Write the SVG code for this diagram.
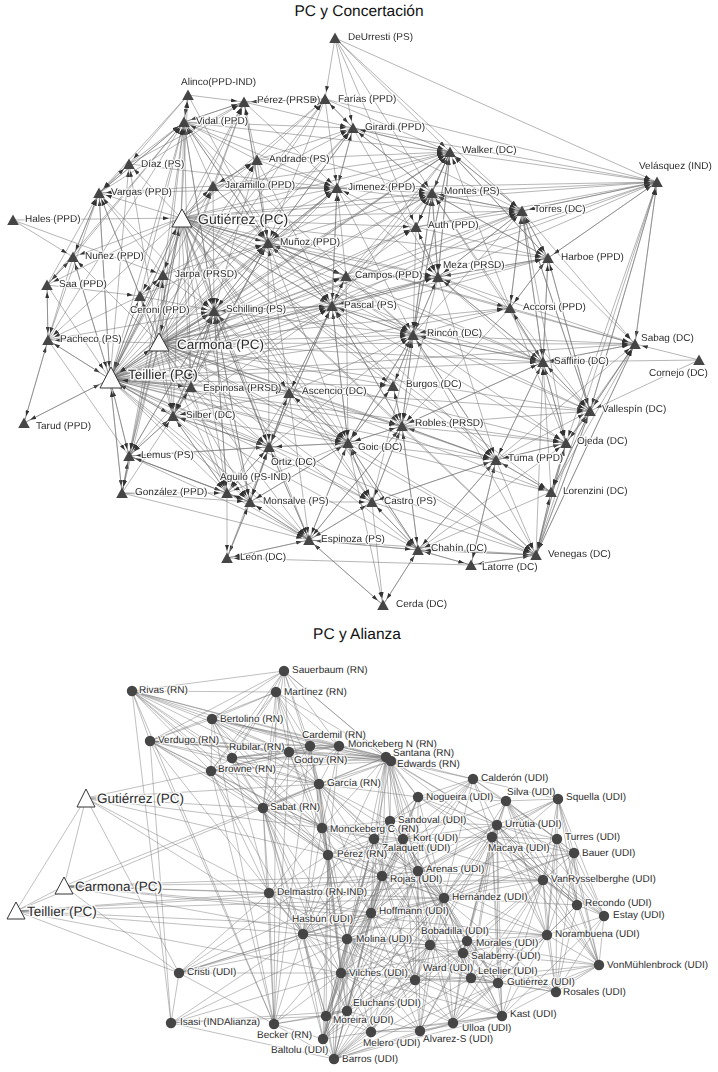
<svg xmlns="http://www.w3.org/2000/svg" width="718" height="1072" viewBox="0 0 718 1072">
<style>
.t path{fill:none;stroke:#6c6c6c;stroke-width:.5;marker-end:url(#ah)}
.t path.p{marker-end:url(#ah2)}
.b path{fill:none;stroke:#727272;stroke-width:.45}
.tk{fill:#444}
.wt{fill:#fff;stroke:#333;stroke-width:1}
.nd{fill:#444}
.ng{opacity:.99}
text{font-family:"Liberation Sans",Arial,Helvetica,sans-serif;fill:#2b2b2b;dominant-baseline:central;text-rendering:geometricPrecision}
.l{font-size:10px;paint-order:stroke;stroke:#fff;stroke-opacity:.8;stroke-width:2.5px;stroke-linejoin:round}
.L{font-size:13.5px;paint-order:stroke;stroke:#fff;stroke-opacity:.85;stroke-width:3px;stroke-linejoin:round}
.ti{font-size:15.5px;text-anchor:middle;fill:#111}
</style>
<defs>
<marker id="ah" viewBox="0 0 6 4" refX="13" refY="2" markerWidth="6" markerHeight="4" markerUnits="userSpaceOnUse" orient="auto"><path d="M0,0L6,2L0,4z" fill="#333"/></marker>
<marker id="ah2" viewBox="0 0 6 4" refX="18" refY="2" markerWidth="6" markerHeight="4" markerUnits="userSpaceOnUse" orient="auto"><path d="M0,0L6,2L0,4z" fill="#333"/></marker>
<polygon id="tri" points="0,-5.5 5.8,5 -5.8,5"/>
</defs>
<rect width="718" height="1072" fill="#fff"/>
<text class="ti" x="359" y="11">PC y Concertación</text>
<text class="ti" x="357" y="634">PC y Alianza</text>
<g id="connectors-concertacion" class="t">
<path d="M188 95L184 122"/><path d="M129 164L184 122"/><path d="M99 193L184 122"/><path d="M181 218L184 122"/><path d="M213 186L184 122"/><path d="M268 243L184 122"/><path d="M214 311L184 122"/><path d="M163 275L184 122"/><path d="M140 296L184 122"/><path d="M159 343L184 122"/><path d="M110 379L184 122"/><path d="M257 160L184 122"/><path d="M191 387L184 122"/><path d="M244 102L184 122"/>
<path d="M335 38L450 152"/><path d="M353 128L450 152"/><path d="M337 188L450 152"/><path d="M432 193L450 152"/><path d="M416 227L450 152"/><path d="M438 277L450 152"/><path d="M522 211L450 152"/><path d="M413 335L450 152"/><path d="M332 306L450 152"/><path d="M346 276L450 152"/><path d="M268 243L450 152"/><path d="M181 218L450 152"/><path d="M159 343L450 152"/><path d="M110 379L450 152"/><path d="M214 311L450 152"/><path d="M325 99L450 152"/><path d="M510 308L450 152"/>
<path d="M325 99L337 188"/><path d="M353 128L337 188"/><path d="M257 160L337 188"/><path d="M181 218L337 188"/><path d="M159 343L337 188"/><path d="M110 379L337 188"/><path d="M268 243L337 188"/><path d="M346 276L337 188"/><path d="M332 306L337 188"/><path d="M214 311L337 188"/><path d="M213 186L337 188"/><path d="M416 227L337 188"/><path d="M244 102L337 188"/><path d="M184 122L337 188"/>
<path d="M450 152L432 193"/><path d="M353 128L432 193"/><path d="M337 188L432 193"/><path d="M416 227L432 193"/><path d="M438 277L432 193"/><path d="M413 335L432 193"/><path d="M522 211L432 193"/><path d="M181 218L432 193"/><path d="M159 343L432 193"/><path d="M110 379L432 193"/><path d="M332 306L432 193"/><path d="M346 276L432 193"/><path d="M548 258L432 193"/><path d="M335 38L432 193"/>
<path d="M450 152L522 211"/><path d="M432 193L522 211"/><path d="M416 227L522 211"/><path d="M438 277L522 211"/><path d="M548 258L522 211"/><path d="M510 308L522 211"/><path d="M543 362L522 211"/><path d="M413 335L522 211"/><path d="M181 218L522 211"/><path d="M110 379L522 211"/><path d="M159 343L522 211"/><path d="M332 306L522 211"/><path d="M590 411L522 211"/>
<path d="M181 218L268 243"/><path d="M159 343L268 243"/><path d="M110 379L268 243"/><path d="M213 186L268 243"/><path d="M163 275L268 243"/><path d="M257 160L268 243"/><path d="M214 311L268 243"/><path d="M346 276L268 243"/><path d="M332 306L268 243"/><path d="M289 393L268 243"/><path d="M191 387L268 243"/><path d="M184 122L268 243"/><path d="M140 296L268 243"/><path d="M173 416L268 243"/><path d="M188 95L268 243"/>
<path d="M181 218L214 311"/><path d="M159 343L214 311"/><path d="M110 379L214 311"/><path d="M163 275L214 311"/><path d="M140 296L214 311"/><path d="M268 243L214 311"/><path d="M191 387L214 311"/><path d="M173 416L214 311"/><path d="M289 393L214 311"/><path d="M332 306L214 311"/><path d="M269 447L214 311"/><path d="M129 456L214 311"/><path d="M99 193L214 311"/><path d="M48 340L214 311"/>
<path d="M181 218L332 306"/><path d="M159 343L332 306"/><path d="M110 379L332 306"/><path d="M268 243L332 306"/><path d="M346 276L332 306"/><path d="M214 311L332 306"/><path d="M289 393L332 306"/><path d="M413 335L332 306"/><path d="M393 386L332 306"/><path d="M348 443L332 306"/><path d="M337 188L332 306"/><path d="M438 277L332 306"/><path d="M402 426L332 306"/>
<path d="M438 277L413 335"/><path d="M416 227L413 335"/><path d="M346 276L413 335"/><path d="M332 306L413 335"/><path d="M393 386L413 335"/><path d="M402 426L413 335"/><path d="M348 443L413 335"/><path d="M181 218L413 335"/><path d="M159 343L413 335"/><path d="M110 379L413 335"/><path d="M510 308L413 335"/><path d="M543 362L413 335"/><path d="M496 460L413 335"/><path d="M372 502L413 335"/><path d="M432 193L413 335"/>
<path d="M416 227L438 277"/><path d="M432 193L438 277"/><path d="M413 335L438 277"/><path d="M548 258L438 277"/><path d="M346 276L438 277"/><path d="M522 211L438 277"/><path d="M510 308L438 277"/><path d="M181 218L438 277"/><path d="M159 343L438 277"/><path d="M110 379L438 277"/><path d="M450 152L438 277"/><path d="M337 188L438 277"/>
<path d="M510 308L543 362"/><path d="M548 258L543 362"/><path d="M522 211L543 362"/><path d="M590 411L543 362"/><path d="M566 443L543 362"/><path d="M496 460L543 362"/><path d="M413 335L543 362"/><path d="M181 218L543 362"/><path d="M159 343L543 362"/><path d="M110 379L543 362"/><path d="M438 277L543 362"/><path d="M635 344L543 362"/><path d="M699 360L543 362"/>
<path d="M393 386L402 426"/><path d="M413 335L402 426"/><path d="M348 443L402 426"/><path d="M496 460L402 426"/><path d="M372 502L402 426"/><path d="M418 550L402 426"/><path d="M181 218L402 426"/><path d="M159 343L402 426"/><path d="M110 379L402 426"/><path d="M289 393L402 426"/><path d="M332 306L402 426"/>
<path d="M289 393L348 443"/><path d="M269 447L348 443"/><path d="M402 426L348 443"/><path d="M393 386L348 443"/><path d="M372 502L348 443"/><path d="M309 540L348 443"/><path d="M250 502L348 443"/><path d="M181 218L348 443"/><path d="M159 343L348 443"/><path d="M110 379L348 443"/><path d="M332 306L348 443"/>
<path d="M289 393L269 447"/><path d="M173 416L269 447"/><path d="M227 493L269 447"/><path d="M250 502L269 447"/><path d="M348 443L269 447"/><path d="M309 540L269 447"/><path d="M129 456L269 447"/><path d="M181 218L269 447"/><path d="M159 343L269 447"/><path d="M110 379L269 447"/><path d="M191 387L269 447"/>
<path d="M191 387L173 416"/><path d="M110 379L173 416"/><path d="M159 343L173 416"/><path d="M129 456L173 416"/><path d="M227 493L173 416"/><path d="M269 447L173 416"/><path d="M214 311L173 416"/><path d="M289 393L173 416"/><path d="M181 218L173 416"/>
<path d="M635 344L590 411"/><path d="M543 362L590 411"/><path d="M566 443L590 411"/><path d="M551 492L590 411"/><path d="M536 555L590 411"/><path d="M496 460L590 411"/><path d="M510 308L590 411"/><path d="M548 258L590 411"/><path d="M181 218L590 411"/><path d="M159 343L590 411"/><path d="M110 379L590 411"/><path d="M699 360L590 411"/>
<path d="M590 411L566 443"/><path d="M543 362L566 443"/><path d="M551 492L566 443"/><path d="M496 460L566 443"/><path d="M536 555L566 443"/><path d="M510 308L566 443"/><path d="M181 218L566 443"/><path d="M159 343L566 443"/><path d="M110 379L566 443"/>
<path d="M551 492L536 555"/><path d="M471 565L536 555"/><path d="M418 550L536 555"/><path d="M496 460L536 555"/><path d="M566 443L536 555"/><path d="M590 411L536 555"/><path d="M635 344L536 555"/><path d="M181 218L536 555"/><path d="M159 343L536 555"/><path d="M110 379L536 555"/>
<path d="M250 502L309 540"/><path d="M227 493L309 540"/><path d="M372 502L309 540"/><path d="M348 443L309 540"/><path d="M269 447L309 540"/><path d="M227 558L309 540"/><path d="M383 605L309 540"/><path d="M181 218L309 540"/><path d="M159 343L309 540"/><path d="M110 379L309 540"/><path d="M418 550L309 540"/>
<path d="M227 493L250 502"/><path d="M269 447L250 502"/><path d="M309 540L250 502"/><path d="M129 456L250 502"/><path d="M122 493L250 502"/><path d="M181 218L250 502"/><path d="M159 343L250 502"/><path d="M110 379L250 502"/>
<path d="M129 456L227 493"/><path d="M122 493L227 493"/><path d="M250 502L227 493"/><path d="M173 416L227 493"/><path d="M269 447L227 493"/><path d="M110 379L227 493"/><path d="M159 343L227 493"/><path d="M181 218L227 493"/>
<path class="p" d="M48 340L110 379"/><path class="p" d="M159 343L110 379"/><path class="p" d="M181 218L110 379"/><path class="p" d="M129 456L110 379"/><path class="p" d="M173 416L110 379"/><path class="p" d="M140 296L110 379"/><path class="p" d="M47 285L110 379"/><path class="p" d="M163 275L110 379"/><path class="p" d="M24 423L110 379"/>
<path d="M122 493L129 456"/><path d="M110 379L129 456"/><path d="M159 343L129 456"/><path d="M173 416L129 456"/><path d="M181 218L129 456"/><path d="M227 493L129 456"/><path d="M48 340L129 456"/>
<path d="M129 164L99 193"/><path d="M73 257L99 193"/><path d="M188 95L99 193"/><path d="M181 218L99 193"/><path d="M163 275L99 193"/><path d="M47 285L99 193"/><path d="M140 296L99 193"/><path d="M159 343L99 193"/><path d="M110 379L99 193"/>
<path d="M657 182L635 344"/><path d="M699 360L635 344"/><path d="M543 362L635 344"/><path d="M590 411L635 344"/><path d="M510 308L635 344"/><path d="M548 258L635 344"/><path d="M181 218L635 344"/><path d="M159 343L635 344"/><path d="M110 379L635 344"/>
<path d="M450 152L657 182"/><path d="M432 193L657 182"/><path d="M522 211L657 182"/><path d="M416 227L657 182"/><path d="M548 258L657 182"/><path d="M335 38L657 182"/><path d="M181 218L657 182"/><path d="M159 343L657 182"/><path d="M110 379L657 182"/><path d="M337 188L657 182"/>
<path d="M335 38L353 128"/><path d="M325 99L353 128"/><path d="M337 188L353 128"/><path d="M257 160L353 128"/><path d="M181 218L353 128"/><path d="M159 343L353 128"/><path d="M110 379L353 128"/><path d="M244 102L353 128"/>
<path d="M188 95L244 102"/><path d="M184 122L244 102"/><path d="M257 160L244 102"/><path d="M181 218L244 102"/><path d="M159 343L244 102"/><path d="M110 379L244 102"/><path d="M325 99L244 102"/>
<path d="M402 426L496 460"/><path d="M413 335L496 460"/><path d="M543 362L496 460"/><path d="M566 443L496 460"/><path d="M551 492L496 460"/><path d="M418 550L496 460"/><path d="M181 218L496 460"/><path d="M159 343L496 460"/><path d="M110 379L496 460"/><path d="M471 565L496 460"/>
<path d="M372 502L418 550"/><path d="M309 540L418 550"/><path d="M471 565L418 550"/><path d="M383 605L418 550"/><path d="M402 426L418 550"/><path d="M181 218L418 550"/><path d="M159 343L418 550"/><path d="M110 379L418 550"/>
<path d="M348 443L372 502"/><path d="M309 540L372 502"/><path d="M402 426L372 502"/><path d="M418 550L372 502"/><path d="M181 218L372 502"/><path d="M159 343L372 502"/><path d="M110 379L372 502"/>
<path d="M522 211L548 258"/><path d="M510 308L548 258"/><path d="M438 277L548 258"/><path d="M657 182L548 258"/><path d="M181 218L548 258"/><path d="M159 343L548 258"/><path d="M110 379L548 258"/>
<path d="M566 443L551 492"/><path d="M496 460L551 492"/><path d="M536 555L551 492"/><path d="M590 411L551 492"/><path d="M181 218L551 492"/><path d="M159 343L551 492"/><path d="M110 379L551 492"/>
<path d="M432 193L416 227"/><path d="M438 277L416 227"/><path d="M450 152L416 227"/><path d="M181 218L416 227"/><path d="M159 343L416 227"/><path d="M110 379L416 227"/><path d="M346 276L416 227"/>
<path d="M335 38L325 99"/><path d="M244 102L325 99"/><path d="M353 128L325 99"/><path d="M181 218L325 99"/><path d="M159 343L325 99"/><path d="M110 379L325 99"/><path d="M257 160L325 99"/>
<path d="M47 285L48 340"/><path d="M73 257L48 340"/><path d="M140 296L48 340"/><path d="M110 379L48 340"/><path d="M159 343L48 340"/><path d="M181 218L48 340"/><path d="M24 423L48 340"/>
<path d="M48 340L24 423"/><path d="M110 379L24 423"/>
<path d="M99 193L129 164"/><path d="M188 95L129 164"/><path d="M181 218L129 164"/><path d="M159 343L129 164"/><path d="M110 379L129 164"/>
<path d="M163 275L140 296"/><path d="M47 285L140 296"/><path d="M181 218L140 296"/><path d="M159 343L140 296"/><path d="M110 379L140 296"/>
<path d="M129 456L122 493"/><path d="M110 379L122 493"/><path d="M159 343L122 493"/><path d="M181 218L122 493"/>
<path d="M227 493L227 558"/><path d="M250 502L227 558"/><path d="M309 540L227 558"/><path d="M471 565L227 558"/>
<path d="M309 540L383 605"/><path d="M418 550L383 605"/><path d="M372 502L383 605"/><path d="M348 443L383 605"/>
<path d="M418 550L471 565"/><path d="M536 555L471 565"/><path d="M496 460L471 565"/>
<path d="M402 426L393 386"/><path d="M413 335L393 386"/><path d="M348 443L393 386"/><path d="M181 218L393 386"/><path d="M159 343L393 386"/><path d="M110 379L393 386"/>
<path d="M332 306L346 276"/><path d="M268 243L346 276"/><path d="M181 218L346 276"/><path d="M159 343L346 276"/><path d="M110 379L346 276"/>
<path d="M548 258L510 308"/><path d="M543 362L510 308"/><path d="M522 211L510 308"/><path d="M181 218L510 308"/><path d="M159 343L510 308"/><path d="M110 379L510 308"/>
<path d="M269 447L289 393"/><path d="M348 443L289 393"/><path d="M332 306L289 393"/><path d="M181 218L289 393"/><path d="M159 343L289 393"/><path d="M110 379L289 393"/>
<path d="M173 416L191 387"/><path d="M214 311L191 387"/><path d="M181 218L191 387"/><path d="M159 343L191 387"/><path d="M110 379L191 387"/>
<path d="M140 296L163 275"/><path d="M181 218L163 275"/><path d="M159 343L163 275"/><path d="M110 379L163 275"/><path d="M13 220L163 275"/>
<path d="M181 218L213 186"/><path d="M159 343L213 186"/><path d="M110 379L213 186"/><path d="M257 160L213 186"/>
<path d="M213 186L257 160"/><path d="M181 218L257 160"/><path d="M159 343L257 160"/><path d="M110 379L257 160"/>
<path d="M47 285L73 257"/><path d="M99 193L73 257"/><path d="M181 218L73 257"/><path d="M159 343L73 257"/><path d="M110 379L73 257"/><path d="M13 220L73 257"/>
<path d="M73 257L47 285"/><path d="M48 340L47 285"/><path d="M181 218L47 285"/>
<path d="M184 122L188 95"/><path d="M181 218L188 95"/>
<path class="p" d="M110 379L181 218"/><path class="p" d="M159 343L181 218"/><path class="p" d="M13 220L181 218"/>
<path class="p" d="M110 379L159 343"/><path class="p" d="M181 218L159 343"/>
<path d="M184 122L413 335"/><path d="M337 188L413 335"/><path d="M450 152L413 335"/><path d="M214 311L413 335"/><path d="M268 243L413 335"/><path d="M289 393L413 335"/><path d="M269 447L413 335"/>
<path d="M184 122L332 306"/><path d="M257 160L332 306"/><path d="M213 186L332 306"/><path d="M173 416L332 306"/><path d="M191 387L332 306"/><path d="M269 447L332 306"/>
<path d="M184 122L214 311"/><path d="M213 186L214 311"/><path d="M257 160L214 311"/><path d="M227 493L214 311"/><path d="M250 502L214 311"/>
<path d="M337 188L268 243"/><path d="M244 102L268 243"/><path d="M325 99L268 243"/><path d="M353 128L268 243"/>
<path d="M413 335L348 443"/><path d="M214 311L348 443"/><path d="M268 243L348 443"/><path d="M173 416L348 443"/><path d="M418 550L348 443"/><path d="M346 276L348 443"/>
<path d="M438 277L402 426"/><path d="M543 362L402 426"/><path d="M309 540L402 426"/><path d="M510 308L402 426"/>
<path d="M214 311L269 447"/><path d="M268 243L269 447"/><path d="M332 306L269 447"/><path d="M227 558L269 447"/>
<path d="M268 243L438 277"/><path d="M332 306L438 277"/><path d="M353 128L438 277"/><path d="M543 362L438 277"/>
<path d="M184 122L450 152"/><path d="M213 186L450 152"/><path d="M257 160L450 152"/><path d="M548 258L450 152"/>
<path d="M99 193L337 188"/><path d="M129 164L337 188"/><path d="M163 275L337 188"/>
<path d="M268 243L432 193"/><path d="M184 122L432 193"/><path d="M510 308L432 193"/><path d="M543 362L432 193"/>
<path d="M332 306L543 362"/><path d="M268 243L543 362"/><path d="M402 426L543 362"/><path d="M536 555L543 362"/><path d="M551 492L543 362"/>
<path d="M413 335L590 411"/><path d="M402 426L590 411"/><path d="M438 277L590 411"/><path d="M522 211L590 411"/><path d="M657 182L590 411"/>
<path d="M413 335L566 443"/><path d="M402 426L566 443"/><path d="M418 550L566 443"/><path d="M522 211L566 443"/><path d="M657 182L566 443"/>
<path d="M402 426L536 555"/><path d="M348 443L536 555"/><path d="M372 502L536 555"/><path d="M413 335L536 555"/><path d="M657 182L536 555"/><path d="M309 540L536 555"/>
<path d="M348 443L496 460"/><path d="M372 502L496 460"/><path d="M332 306L496 460"/><path d="M438 277L496 460"/>
<path d="M402 426L309 540"/><path d="M289 393L309 540"/><path d="M173 416L309 540"/><path d="M129 456L309 540"/><path d="M122 493L309 540"/>
<path d="M289 393L250 502"/><path d="M173 416L250 502"/><path d="M348 443L250 502"/><path d="M214 311L250 502"/><path d="M227 558L250 502"/>
<path d="M289 393L227 493"/><path d="M191 387L227 493"/><path d="M214 311L227 493"/><path d="M348 443L227 493"/>
<path d="M163 275L173 416"/><path d="M140 296L173 416"/><path d="M268 243L173 416"/><path d="M122 493L173 416"/>
<path d="M348 443L418 550"/><path d="M496 460L418 550"/><path d="M551 492L418 550"/><path d="M536 555L418 550"/>
<path d="M289 393L372 502"/><path d="M269 447L372 502"/><path d="M496 460L372 502"/><path d="M250 502L372 502"/>
<path d="M353 128L657 182"/><path d="M438 277L657 182"/><path d="M325 99L657 182"/><path d="M590 411L657 182"/><path d="M635 344L657 182"/>
<path d="M522 211L635 344"/><path d="M438 277L635 344"/><path d="M413 335L635 344"/><path d="M566 443L635 344"/><path d="M551 492L635 344"/><path d="M536 555L635 344"/><path d="M496 460L635 344"/>
<path d="M337 188L522 211"/><path d="M353 128L522 211"/><path d="M657 182L522 211"/><path d="M335 38L522 211"/>
<path d="M432 193L548 258"/><path d="M450 152L548 258"/><path d="M416 227L548 258"/><path d="M543 362L548 258"/><path d="M590 411L548 258"/>
<path d="M191 387L129 456"/><path d="M214 311L129 456"/><path d="M163 275L129 456"/><path d="M269 447L129 456"/>
<path d="M184 122L99 193"/><path d="M213 186L99 193"/><path d="M48 340L99 193"/>
<path class="p" d="M191 387L110 379"/><path class="p" d="M214 311L110 379"/><path class="p" d="M122 493L110 379"/><path class="p" d="M73 257L110 379"/><path class="p" d="M99 193L110 379"/>
<path d="M268 243L353 128"/><path d="M450 152L353 128"/><path d="M432 193L353 128"/><path d="M184 122L353 128"/>
<path d="M213 186L244 102"/><path d="M268 243L244 102"/><path d="M129 164L244 102"/><path d="M99 193L244 102"/>
<path d="M73 257L184 122"/><path d="M47 285L184 122"/><path d="M48 340L184 122"/>
<path d="M335 38L416 227"/>
</g>
<g id="connectors-alianza" class="b">
<path d="M284 671L276 692"/><path d="M284 671L132 691"/><path d="M284 671L212 719"/><path d="M284 671L289 752"/><path d="M284 671L310 746"/><path d="M284 671L386 757"/><path d="M284 671L319 784"/><path d="M284 671L232 758"/><path d="M284 671L211 771"/><path d="M284 671L150 741"/>
<path d="M132 691L276 692"/><path d="M132 691L212 719"/><path d="M132 691L150 741"/><path d="M132 691L232 758"/><path d="M132 691L289 752"/><path d="M132 691L310 746"/><path d="M132 691L339 746"/><path d="M132 691L386 757"/><path d="M132 691L319 784"/><path d="M132 691L211 771"/><path d="M132 691L263 808"/><path d="M132 691L328 855"/><path d="M132 691L322 828"/><path d="M132 691L274 1024"/><path d="M132 691L171 1023"/>
<path d="M276 692L212 719"/><path d="M276 692L289 752"/><path d="M276 692L310 746"/><path d="M276 692L339 746"/><path d="M276 692L386 757"/><path d="M276 692L319 784"/><path d="M276 692L232 758"/><path d="M276 692L211 771"/><path d="M276 692L263 808"/><path d="M276 692L150 741"/>
<path d="M212 719L150 741"/><path d="M212 719L232 758"/><path d="M212 719L289 752"/><path d="M212 719L310 746"/><path d="M212 719L339 746"/><path d="M212 719L386 757"/><path d="M212 719L391 761"/><path d="M212 719L319 784"/><path d="M212 719L211 771"/><path d="M212 719L263 808"/><path d="M212 719L322 828"/>
<path d="M150 741L232 758"/><path d="M150 741L289 752"/><path d="M150 741L310 746"/><path d="M150 741L339 746"/><path d="M150 741L386 757"/><path d="M150 741L319 784"/><path d="M150 741L211 771"/><path d="M150 741L263 808"/><path d="M150 741L322 828"/><path d="M150 741L328 855"/><path d="M150 741L303 934"/><path d="M150 741L274 1024"/><path d="M150 741L171 1023"/>
<path d="M310 746L339 746"/><path d="M310 746L289 752"/><path d="M310 746L386 757"/><path d="M310 746L391 761"/><path d="M310 746L319 784"/><path d="M310 746L232 758"/><path d="M310 746L211 771"/><path d="M310 746L263 808"/><path d="M310 746L322 828"/>
<path d="M339 746L289 752"/><path d="M339 746L386 757"/><path d="M339 746L391 761"/><path d="M339 746L319 784"/><path d="M339 746L232 758"/><path d="M339 746L211 771"/>
<path d="M289 752L232 758"/><path d="M289 752L386 757"/><path d="M289 752L391 761"/><path d="M289 752L319 784"/><path d="M289 752L211 771"/><path d="M289 752L263 808"/><path d="M289 752L322 828"/><path d="M289 752L328 855"/>
<path d="M386 757L391 761"/><path d="M386 757L319 784"/><path d="M386 757L418 797"/><path d="M386 757L390 821"/><path d="M386 757L473 779"/><path d="M386 757L211 771"/><path d="M386 757L232 758"/><path d="M386 757L322 828"/><path d="M386 757L403 839"/><path d="M386 757L374 839"/><path d="M386 757L382 876"/><path d="M386 757L371 913"/><path d="M386 757L347 939"/>
<path d="M391 761L319 784"/><path d="M391 761L390 821"/><path d="M391 761L418 797"/><path d="M391 761L232 758"/><path d="M391 761L211 771"/><path d="M391 761L263 808"/><path d="M391 761L418 871"/><path d="M391 761L444 898"/><path d="M391 761L497 825"/>
<path d="M211 771L232 758"/><path d="M211 771L319 784"/><path d="M211 771L263 808"/><path d="M211 771L322 828"/><path d="M211 771L328 855"/><path d="M211 771L303 934"/><path d="M211 771L269 893"/><path d="M211 771L274 1024"/>
<path d="M319 784L263 808"/><path d="M319 784L322 828"/><path d="M319 784L328 855"/><path d="M319 784L418 797"/><path d="M319 784L390 821"/><path d="M319 784L403 839"/><path d="M319 784L374 839"/><path d="M319 784L371 913"/><path d="M319 784L347 939"/>
<path d="M263 808L322 828"/><path d="M263 808L328 855"/><path d="M263 808L269 893"/><path d="M263 808L303 934"/><path d="M263 808L347 939"/><path d="M263 808L341 973"/><path d="M263 808L374 839"/><path d="M263 808L382 876"/><path d="M263 808L274 1024"/>
<path d="M322 828L328 855"/><path d="M322 828L390 821"/><path d="M322 828L374 839"/><path d="M322 828L403 839"/><path d="M322 828L382 876"/><path d="M322 828L371 913"/><path d="M322 828L269 893"/>
<path d="M328 855L374 839"/><path d="M328 855L382 876"/><path d="M328 855L371 913"/><path d="M328 855L347 939"/><path d="M328 855L341 973"/><path d="M328 855L303 934"/><path d="M328 855L269 893"/><path d="M328 855L347 1011"/><path d="M328 855L326 1016"/>
<path d="M473 779L418 797"/><path d="M473 779L506 801"/><path d="M473 779L558 799"/><path d="M473 779L497 825"/><path d="M473 779L390 821"/><path d="M473 779L403 839"/><path d="M473 779L492 837"/><path d="M473 779L557 839"/><path d="M473 779L418 871"/><path d="M473 779L444 898"/>
<path d="M418 797L506 801"/><path d="M418 797L390 821"/><path d="M418 797L403 839"/><path d="M418 797L374 839"/><path d="M418 797L497 825"/><path d="M418 797L492 837"/><path d="M418 797L418 871"/><path d="M418 797L382 876"/><path d="M418 797L444 898"/><path d="M418 797L543 880"/>
<path d="M506 801L558 799"/><path d="M506 801L497 825"/><path d="M506 801L492 837"/><path d="M506 801L557 839"/><path d="M506 801L574 853"/><path d="M506 801L403 839"/><path d="M506 801L444 898"/><path d="M506 801L543 880"/><path d="M506 801L547 935"/><path d="M506 801L467 941"/>
<path d="M558 799L497 825"/><path d="M558 799L557 839"/><path d="M558 799L574 853"/><path d="M558 799L492 837"/><path d="M558 799L543 880"/><path d="M558 799L444 898"/><path d="M558 799L577 905"/><path d="M558 799L604 916"/><path d="M558 799L547 935"/><path d="M558 799L418 871"/>
<path d="M390 821L403 839"/><path d="M390 821L374 839"/><path d="M390 821L497 825"/><path d="M390 821L418 871"/><path d="M390 821L382 876"/><path d="M390 821L371 913"/><path d="M390 821L444 898"/><path d="M390 821L347 939"/><path d="M390 821L430 945"/>
<path d="M497 825L492 837"/><path d="M497 825L557 839"/><path d="M497 825L574 853"/><path d="M497 825L403 839"/><path d="M497 825L543 880"/><path d="M497 825L444 898"/><path d="M497 825L418 871"/><path d="M497 825L577 905"/><path d="M497 825L430 945"/><path d="M497 825L463 953"/>
<path d="M403 839L374 839"/><path d="M403 839L492 837"/><path d="M403 839L418 871"/><path d="M403 839L382 876"/><path d="M403 839L444 898"/><path d="M403 839L371 913"/><path d="M403 839L543 880"/><path d="M403 839L430 945"/><path d="M403 839L415 980"/><path d="M403 839L347 939"/>
<path d="M374 839L382 876"/><path d="M374 839L418 871"/><path d="M374 839L371 913"/><path d="M374 839L347 939"/><path d="M374 839L341 973"/><path d="M374 839L444 898"/><path d="M374 839L415 980"/><path d="M374 839L430 945"/>
<path d="M557 839L574 853"/><path d="M557 839L492 837"/><path d="M557 839L543 880"/><path d="M557 839L577 905"/><path d="M557 839L604 916"/><path d="M557 839L444 898"/><path d="M557 839L547 935"/><path d="M557 839L599 965"/>
<path d="M492 837L574 853"/><path d="M492 837L543 880"/><path d="M492 837L444 898"/><path d="M492 837L418 871"/><path d="M492 837L577 905"/><path d="M492 837L547 935"/><path d="M492 837L463 953"/><path d="M492 837L467 941"/><path d="M492 837L471 978"/>
<path d="M574 853L543 880"/><path d="M574 853L577 905"/><path d="M574 853L604 916"/><path d="M574 853L547 935"/><path d="M574 853L599 965"/><path d="M574 853L444 898"/><path d="M574 853L382 876"/><path d="M574 853L347 939"/>
<path d="M382 876L418 871"/><path d="M382 876L371 913"/><path d="M382 876L347 939"/><path d="M382 876L341 973"/><path d="M382 876L444 898"/><path d="M382 876L430 945"/><path d="M382 876L415 980"/><path d="M382 876L347 1011"/><path d="M382 876L326 1016"/><path d="M382 876L323 1039"/>
<path d="M418 871L444 898"/><path d="M418 871L371 913"/><path d="M418 871L430 945"/><path d="M418 871L467 941"/><path d="M418 871L543 880"/><path d="M418 871L415 980"/><path d="M418 871L463 953"/><path d="M418 871L453 1023"/>
<path d="M543 880L444 898"/><path d="M543 880L577 905"/><path d="M543 880L604 916"/><path d="M543 880L547 935"/><path d="M543 880L599 965"/><path d="M543 880L467 941"/><path d="M543 880L463 953"/><path d="M543 880L498 983"/><path d="M543 880L471 978"/>
<path d="M444 898L371 913"/><path d="M444 898L430 945"/><path d="M444 898L467 941"/><path d="M444 898L463 953"/><path d="M444 898L547 935"/><path d="M444 898L415 980"/><path d="M444 898L471 978"/><path d="M444 898L498 983"/><path d="M444 898L502 1016"/><path d="M444 898L341 973"/><path d="M444 898L347 939"/>
<path d="M371 913L347 939"/><path d="M371 913L341 973"/><path d="M371 913L430 945"/><path d="M371 913L415 980"/><path d="M371 913L347 1011"/><path d="M371 913L326 1016"/><path d="M371 913L371 1032"/><path d="M371 913L420 1031"/><path d="M371 913L323 1039"/>
<path d="M577 905L604 916"/><path d="M577 905L547 935"/><path d="M577 905L599 965"/><path d="M577 905L498 983"/><path d="M577 905L556 992"/>
<path d="M604 916L547 935"/><path d="M604 916L599 965"/><path d="M604 916L556 992"/><path d="M604 916L502 1016"/>
<path d="M303 934L347 939"/><path d="M303 934L341 973"/><path d="M303 934L347 1011"/><path d="M303 934L326 1016"/><path d="M303 934L323 1039"/><path d="M303 934L334 1059"/><path d="M303 934L274 1024"/><path d="M303 934L269 893"/><path d="M303 934L371 913"/><path d="M303 934L382 876"/><path d="M303 934L374 839"/><path d="M303 934L415 980"/>
<path d="M547 935L599 965"/><path d="M547 935L556 992"/><path d="M547 935L498 983"/><path d="M547 935L471 978"/><path d="M547 935L502 1016"/><path d="M547 935L463 953"/><path d="M547 935L467 941"/><path d="M547 935L453 1023"/>
<path d="M347 939L341 973"/><path d="M347 939L430 945"/><path d="M347 939L415 980"/><path d="M347 939L347 1011"/><path d="M347 939L326 1016"/><path d="M347 939L371 1032"/><path d="M347 939L323 1039"/><path d="M347 939L334 1059"/><path d="M347 939L453 1023"/><path d="M347 939L420 1031"/><path d="M347 939L471 978"/>
<path d="M430 945L467 941"/><path d="M430 945L463 953"/><path d="M430 945L415 980"/><path d="M430 945L471 978"/><path d="M430 945L498 983"/><path d="M430 945L502 1016"/><path d="M430 945L453 1023"/><path d="M430 945L420 1031"/>
<path d="M467 941L463 953"/><path d="M467 941L471 978"/><path d="M467 941L498 983"/><path d="M467 941L599 965"/><path d="M467 941L556 992"/><path d="M467 941L502 1016"/>
<path d="M463 953L471 978"/><path d="M463 953L498 983"/><path d="M463 953L415 980"/><path d="M463 953L556 992"/><path d="M463 953L502 1016"/><path d="M463 953L599 965"/>
<path d="M599 965L556 992"/><path d="M599 965L498 983"/><path d="M599 965L502 1016"/><path d="M599 965L471 978"/><path d="M599 965L453 1023"/>
<path d="M341 973L415 980"/><path d="M341 973L347 1011"/><path d="M341 973L326 1016"/><path d="M341 973L371 1032"/><path d="M341 973L323 1039"/><path d="M341 973L334 1059"/><path d="M341 973L420 1031"/><path d="M341 973L453 1023"/>
<path d="M415 980L471 978"/><path d="M415 980L498 983"/><path d="M415 980L453 1023"/><path d="M415 980L420 1031"/><path d="M415 980L371 1032"/><path d="M415 980L502 1016"/>
<path d="M471 978L498 983"/><path d="M471 978L502 1016"/><path d="M471 978L556 992"/><path d="M471 978L453 1023"/>
<path d="M498 983L502 1016"/><path d="M498 983L556 992"/><path d="M498 983L453 1023"/>
<path d="M347 1011L326 1016"/><path d="M347 1011L371 1032"/><path d="M347 1011L323 1039"/><path d="M347 1011L334 1059"/><path d="M347 1011L420 1031"/>
<path d="M326 1016L323 1039"/><path d="M326 1016L334 1059"/><path d="M326 1016L371 1032"/>
<path d="M502 1016L453 1023"/><path d="M502 1016L420 1031"/>
<path d="M453 1023L420 1031"/><path d="M453 1023L371 1032"/><path d="M453 1023L334 1059"/>
<path d="M420 1031L371 1032"/><path d="M420 1031L334 1059"/>
<path d="M371 1032L323 1039"/><path d="M371 1032L334 1059"/>
<path d="M323 1039L334 1059"/>
<path d="M334 1059L444 898"/><path d="M334 1059L463 953"/><path d="M334 1059L467 941"/><path d="M334 1059L430 945"/><path d="M334 1059L415 980"/><path d="M334 1059L471 978"/>
<path d="M323 1039L430 945"/><path d="M323 1039L444 898"/><path d="M323 1039L415 980"/>
<path d="M274 1024L347 939"/><path d="M274 1024L341 973"/><path d="M274 1024L323 1039"/><path d="M274 1024L334 1059"/><path d="M274 1024L326 1016"/><path d="M274 1024L347 1011"/><path d="M274 1024L269 893"/><path d="M274 1024L179 973"/><path d="M274 1024L276 692"/><path d="M274 1024L289 752"/><path d="M274 1024L212 719"/><path d="M274 1024L310 746"/>
<path d="M269 893L347 939"/><path d="M269 893L179 973"/><path d="M269 893L341 973"/><path d="M269 893L371 913"/><path d="M269 893L382 876"/>
<path d="M179 973L347 939"/><path d="M179 973L341 973"/><path d="M179 973L371 913"/><path d="M179 973L303 934"/><path d="M179 973L382 876"/><path d="M179 973L374 839"/><path d="M179 973L444 898"/>
<path d="M171 1023L347 939"/><path d="M171 1023L303 934"/><path d="M171 1023L179 973"/><path d="M171 1023L341 973"/><path d="M171 1023L334 1059"/><path d="M171 1023L347 1011"/><path d="M171 1023L326 1016"/>
<path d="M86 798L16 911"/><path d="M86 798L64 886"/><path d="M86 798L211 771"/><path d="M86 798L263 808"/><path d="M86 798L322 828"/><path d="M86 798L328 855"/><path d="M86 798L269 893"/><path d="M86 798L303 934"/><path d="M86 798L179 973"/><path d="M86 798L319 784"/>
<path d="M64 886L16 911"/><path d="M64 886L269 893"/><path d="M64 886L444 898"/><path d="M64 886L347 939"/><path d="M64 886L371 913"/><path d="M64 886L543 880"/><path d="M64 886L547 935"/><path d="M64 886L319 784"/><path d="M64 886L179 973"/><path d="M64 886L382 876"/>
<path d="M16 911L179 973"/><path d="M16 911L269 893"/><path d="M16 911L303 934"/><path d="M16 911L444 898"/><path d="M16 911L547 935"/><path d="M16 911L263 808"/><path d="M16 911L341 973"/><path d="M16 911L543 880"/>
<path d="M303 934L386 757"/><path d="M303 934L319 784"/><path d="M303 934L322 828"/><path d="M303 934L390 821"/><path d="M303 934L403 839"/><path d="M303 934L444 898"/><path d="M303 934L430 945"/><path d="M303 934L418 871"/>
<path d="M347 939L418 871"/><path d="M347 939L467 941"/><path d="M347 939L463 953"/><path d="M347 939L498 983"/><path d="M347 939L502 1016"/>
<path d="M341 973L430 945"/><path d="M341 973L463 953"/><path d="M341 973L471 978"/><path d="M341 973L498 983"/><path d="M341 973L502 1016"/>
<path d="M334 1059L502 1016"/><path d="M334 1059L498 983"/><path d="M334 1059L382 876"/><path d="M334 1059L371 913"/><path d="M334 1059L418 871"/>
<path d="M323 1039L418 871"/><path d="M323 1039L374 839"/><path d="M323 1039L403 839"/>
<path d="M347 1011L444 898"/><path d="M347 1011L430 945"/><path d="M347 1011L415 980"/><path d="M347 1011L418 871"/><path d="M347 1011L403 839"/>
<path d="M326 1016L444 898"/><path d="M326 1016L374 839"/><path d="M326 1016L415 980"/>
<path d="M371 1032L444 898"/><path d="M371 1032L430 945"/><path d="M371 1032L418 871"/><path d="M371 1032L502 1016"/>
<path d="M420 1031L444 898"/><path d="M420 1031L467 941"/><path d="M420 1031L463 953"/><path d="M420 1031L418 871"/><path d="M420 1031L498 983"/>
<path d="M453 1023L444 898"/><path d="M453 1023L467 941"/><path d="M453 1023L463 953"/><path d="M453 1023L543 880"/>
<path d="M502 1016L543 880"/><path d="M502 1016L492 837"/><path d="M502 1016L497 825"/>
<path d="M556 992L543 880"/><path d="M556 992L444 898"/><path d="M556 992L574 853"/><path d="M556 992L557 839"/>
<path d="M498 983L497 825"/><path d="M498 983L492 837"/><path d="M498 983L418 871"/><path d="M498 983L403 839"/>
<path d="M471 978L418 871"/><path d="M471 978L497 825"/><path d="M471 978L403 839"/><path d="M471 978L382 876"/>
<path d="M599 965L558 799"/><path d="M599 965L506 801"/><path d="M599 965L497 825"/><path d="M599 965L492 837"/>
<path d="M604 916L506 801"/><path d="M604 916L497 825"/><path d="M604 916L492 837"/>
<path d="M577 905L506 801"/><path d="M577 905L497 825"/><path d="M577 905L492 837"/><path d="M577 905L444 898"/>
<path d="M547 935L497 825"/><path d="M547 935L418 871"/>
<path d="M415 980L467 941"/><path d="M415 980L492 837"/>
<path d="M371 913L418 797"/><path d="M371 913L473 779"/><path d="M371 913L497 825"/>
<path d="M382 876L473 779"/><path d="M382 876L497 825"/>
<path d="M391 761L403 839"/><path d="M391 761L374 839"/><path d="M391 761L492 837"/><path d="M386 757L444 898"/><path d="M386 757L418 871"/><path d="M386 757L497 825"/><path d="M391 761L473 779"/><path d="M386 757L506 801"/>
<path d="M319 784L382 876"/><path d="M319 784L418 871"/><path d="M319 784L444 898"/><path d="M319 784L341 973"/>
<path d="M322 828L347 939"/><path d="M322 828L341 973"/><path d="M322 828L418 871"/><path d="M322 828L444 898"/>
<path d="M328 855L403 839"/><path d="M328 855L390 821"/><path d="M328 855L418 871"/><path d="M328 855L444 898"/><path d="M328 855L323 1039"/><path d="M328 855L334 1059"/>
<path d="M263 808L386 757"/><path d="M263 808L326 1016"/><path d="M263 808L323 1039"/><path d="M263 808L347 1011"/>
<path d="M339 746L263 808"/><path d="M339 746L322 828"/><path d="M339 746L328 855"/><path d="M310 746L328 855"/><path d="M276 692L322 828"/><path d="M284 671L263 808"/><path d="M284 671L339 746"/><path d="M284 671L391 761"/><path d="M212 719L328 855"/><path d="M150 741L391 761"/><path d="M232 758L263 808"/><path d="M232 758L322 828"/><path d="M232 758L328 855"/><path d="M232 758L319 784"/><path d="M232 758L269 893"/>
</g>
<g id="nodes-concertacion" class="ng">
<g id="c-deurresti"><use href="#tri" class="tk" x="335" y="38"/><text class="l" x="348" y="37">DeUrresti (PS)</text></g>
<g id="c-alinco"><use href="#tri" class="tk" x="188" y="95"/><text class="l" x="181" y="82">Alinco(PPD-IND)</text></g>
<g id="c-perez"><use href="#tri" class="tk" x="244" y="102"/><text class="l" x="257" y="100">Pérez (PRSD)</text></g>
<g id="c-farias"><use href="#tri" class="tk" x="325" y="99"/><text class="l" x="338" y="99">Farías (PPD)</text></g>
<g id="c-vidal"><use href="#tri" class="tk" x="184" y="122"/><text class="l" x="196" y="121">Vidal (PPD)</text></g>
<g id="c-girardi"><use href="#tri" class="tk" x="353" y="128"/><text class="l" x="365" y="127">Girardi (PPD)</text></g>
<g id="c-walker"><use href="#tri" class="tk" x="450" y="152"/><text class="l" x="462" y="150">Walker (DC)</text></g>
<g id="c-diaz"><use href="#tri" class="tk" x="129" y="164"/><text class="l" x="141" y="164">Díaz (PS)</text></g>
<g id="c-andrade"><use href="#tri" class="tk" x="257" y="160"/><text class="l" x="269" y="159">Andrade (PS)</text></g>
<g id="c-velasquez"><use href="#tri" class="tk" x="657" y="182"/><text class="l" x="639" y="166">Velásquez (IND)</text></g>
<g id="c-jimenez"><use href="#tri" class="tk" x="337" y="188"/><text class="l" x="348" y="187">Jimenez (PPD)</text></g>
<g id="c-montes"><use href="#tri" class="tk" x="432" y="193"/><text class="l" x="444" y="191">Montes (PS)</text></g>
<g id="c-vargas"><use href="#tri" class="tk" x="99" y="193"/><text class="l" x="111" y="192">Vargas (PPD)</text></g>
<g id="c-jaramillo"><use href="#tri" class="tk" x="213" y="186"/><text class="l" x="225" y="185">Jaramillo (PPD)</text></g>
<g id="c-torres"><use href="#tri" class="tk" x="522" y="211"/><text class="l" x="534" y="209">Torres (DC)</text></g>
<g id="c-hales"><use href="#tri" class="tk" x="13" y="220"/><text class="l" x="25" y="219">Hales (PPD)</text></g>
<g id="c-auth"><use href="#tri" class="tk" x="416" y="227"/><text class="l" x="428" y="225">Auth (PPD)</text></g>
<g id="c-munoz"><use href="#tri" class="tk" x="268" y="243"/><text class="l" x="280" y="242">Muñoz (PPD)</text></g>
<g id="c-nunez"><use href="#tri" class="tk" x="73" y="257"/><text class="l" x="85" y="256">Nuñez (PPD)</text></g>
<g id="c-harboe"><use href="#tri" class="tk" x="548" y="258"/><text class="l" x="561" y="257">Harboe (PPD)</text></g>
<g id="c-meza"><use href="#tri" class="tk" x="438" y="277"/><text class="l" x="443" y="265">Meza (PRSD)</text></g>
<g id="c-campos"><use href="#tri" class="tk" x="346" y="276"/><text class="l" x="355" y="275">Campos (PPD)</text></g>
<g id="c-jarpa"><use href="#tri" class="tk" x="163" y="275"/><text class="l" x="175" y="274">Jarpa (PRSD)</text></g>
<g id="c-saa"><use href="#tri" class="tk" x="47" y="285"/><text class="l" x="59" y="284">Saa (PPD)</text></g>
<g id="c-ceroni"><use href="#tri" class="tk" x="140" y="296"/><text class="l" x="130" y="310">Ceroni (PPD)</text></g>
<g id="c-schilling"><use href="#tri" class="tk" x="214" y="311"/><text class="l" x="226" y="309">Schilling (PS)</text></g>
<g id="c-pascal"><use href="#tri" class="tk" x="332" y="306"/><text class="l" x="344" y="305">Pascal (PS)</text></g>
<g id="c-accorsi"><use href="#tri" class="tk" x="510" y="308"/><text class="l" x="523" y="307">Accorsi (PPD)</text></g>
<g id="c-pacheco"><use href="#tri" class="tk" x="48" y="340"/><text class="l" x="60" y="339">Pacheco (PS)</text></g>
<g id="c-rincon"><use href="#tri" class="tk" x="413" y="335"/><text class="l" x="427" y="333">Rincón (DC)</text></g>
<g id="c-sabag"><use href="#tri" class="tk" x="635" y="344"/><text class="l" x="641" y="338">Sabag (DC)</text></g>
<g id="c-saffirio"><use href="#tri" class="tk" x="543" y="362"/><text class="l" x="554" y="361">Saffirio (DC)</text></g>
<g id="c-cornejo"><use href="#tri" class="tk" x="699" y="360"/><text class="l" x="649" y="373">Cornejo (DC)</text></g>
<g id="c-espinosa"><use href="#tri" class="tk" x="191" y="387"/><text class="l" x="203" y="388">Espinosa (PRSD)</text></g>
<g id="c-ascencio"><use href="#tri" class="tk" x="289" y="393"/><text class="l" x="302" y="391">Ascencio (DC)</text></g>
<g id="c-burgos"><use href="#tri" class="tk" x="393" y="386"/><text class="l" x="406" y="384">Burgos (DC)</text></g>
<g id="c-silber"><use href="#tri" class="tk" x="173" y="416"/><text class="l" x="186" y="415">Silber (DC)</text></g>
<g id="c-vallespin"><use href="#tri" class="tk" x="590" y="411"/><text class="l" x="602" y="409">Vallespín (DC)</text></g>
<g id="c-tarud"><use href="#tri" class="tk" x="24" y="423"/><text class="l" x="36" y="426">Tarud (PPD)</text></g>
<g id="c-robles"><use href="#tri" class="tk" x="402" y="426"/><text class="l" x="415" y="423">Robles (PRSD)</text></g>
<g id="c-goic"><use href="#tri" class="tk" x="348" y="443"/><text class="l" x="358" y="447">Goic (DC)</text></g>
<g id="c-ojeda"><use href="#tri" class="tk" x="566" y="443"/><text class="l" x="577" y="441">Ojeda (DC)</text></g>
<g id="c-ortiz"><use href="#tri" class="tk" x="269" y="447"/><text class="l" x="271" y="462">Ortiz (DC)</text></g>
<g id="c-tuma"><use href="#tri" class="tk" x="496" y="460"/><text class="l" x="508" y="458">Tuma (PPD)</text></g>
<g id="c-lemus"><use href="#tri" class="tk" x="129" y="456"/><text class="l" x="141" y="455">Lemus (PS)</text></g>
<g id="c-aguilo"><use href="#tri" class="tk" x="227" y="493"/><text class="l" x="220" y="477">Aguiló (PS-IND)</text></g>
<g id="c-gonzalez"><use href="#tri" class="tk" x="122" y="493"/><text class="l" x="135" y="492">González (PPD)</text></g>
<g id="c-monsalve"><use href="#tri" class="tk" x="250" y="502"/><text class="l" x="263" y="501">Monsalve (PS)</text></g>
<g id="c-castro"><use href="#tri" class="tk" x="372" y="502"/><text class="l" x="384" y="501">Castro (PS)</text></g>
<g id="c-lorenzini"><use href="#tri" class="tk" x="551" y="492"/><text class="l" x="563" y="491">Lorenzini (DC)</text></g>
<g id="c-espinoza"><use href="#tri" class="tk" x="309" y="540"/><text class="l" x="321" y="539">Espinoza (PS)</text></g>
<g id="c-leon"><use href="#tri" class="tk" x="227" y="558"/><text class="l" x="240" y="557">León (DC)</text></g>
<g id="c-chahin"><use href="#tri" class="tk" x="418" y="550"/><text class="l" x="431" y="548">Chahín (DC)</text></g>
<g id="c-latorre"><use href="#tri" class="tk" x="471" y="565"/><text class="l" x="482" y="567">Latorre (DC)</text></g>
<g id="c-venegas"><use href="#tri" class="tk" x="536" y="555"/><text class="l" x="548" y="554">Venegas (DC)</text></g>
<g id="c-cerda"><use href="#tri" class="tk" x="383" y="605"/><text class="l" x="396" y="604">Cerda (DC)</text></g>
<g id="c-gutierrez"><polygon class="wt" points="182,209 192,227 172,227"/><text class="L" x="198" y="219" style="font-size:14px">Gutiérrez (PC)</text></g>
<g id="c-carmona"><polygon class="wt" points="159,333 169,351 149,351"/><text class="L" x="177" y="344">Carmona (PC)</text></g>
<g id="c-teillier"><polygon class="wt" points="111,367 122,388 100,388"/><text class="L" x="128" y="374">Teillier (PC)</text></g>
</g>
<g id="nodes-alianza" class="ng">
<g id="a-sauerbaum"><circle class="nd" cx="284" cy="671" r="5.2"/><text class="l" x="292" y="670">Sauerbaum (RN)</text></g>
<g id="a-rivas"><circle class="nd" cx="132" cy="691" r="5.2"/><text class="l" x="139" y="690">Rivas (RN)</text></g>
<g id="a-martinez"><circle class="nd" cx="276" cy="692" r="5.2"/><text class="l" x="284" y="692">Martínez (RN)</text></g>
<g id="a-bertolino"><circle class="nd" cx="212" cy="719" r="5.2"/><text class="l" x="220" y="719">Bertolino (RN)</text></g>
<g id="a-verdugo"><circle class="nd" cx="150" cy="741" r="5.2"/><text class="l" x="158" y="740">Verdugo (RN)</text></g>
<g id="a-cardemil"><circle class="nd" cx="310" cy="746" r="5.2"/><text class="l" x="302" y="735">Cardemil (RN)</text></g>
<g id="a-monckebergn"><circle class="nd" cx="339" cy="746" r="5.2"/><text class="l" x="348" y="744">Monckeberg N (RN)</text></g>
<g id="a-rubilar"><circle class="nd" cx="232" cy="758" r="5.2"/><text class="l" x="229" y="747">Rubilar (RN)</text></g>
<g id="a-godoy"><circle class="nd" cx="289" cy="752" r="5.2"/><text class="l" x="294" y="760">Godoy (RN)</text></g>
<g id="a-santana"><circle class="nd" cx="386" cy="757" r="5.2"/><text class="l" x="393" y="753">Santana (RN)</text></g>
<g id="a-edwards"><circle class="nd" cx="391" cy="761" r="5.2"/><text class="l" x="397" y="764">Edwards (RN)</text></g>
<g id="a-browne"><circle class="nd" cx="211" cy="771" r="5.2"/><text class="l" x="218" y="769">Browne (RN)</text></g>
<g id="a-garcia"><circle class="nd" cx="319" cy="784" r="5.2"/><text class="l" x="327" y="783">García (RN)</text></g>
<g id="a-calderon"><circle class="nd" cx="473" cy="779" r="5.2"/><text class="l" x="481" y="778">Calderón (UDI)</text></g>
<g id="a-nogueira"><circle class="nd" cx="418" cy="797" r="5.2"/><text class="l" x="426" y="797">Nogueira (UDI)</text></g>
<g id="a-silva"><circle class="nd" cx="506" cy="801" r="5.2"/><text class="l" x="507" y="792">Silva (UDI)</text></g>
<g id="a-squella"><circle class="nd" cx="558" cy="799" r="5.2"/><text class="l" x="566" y="797">Squella (UDI)</text></g>
<g id="a-sabat"><circle class="nd" cx="263" cy="808" r="5.2"/><text class="l" x="270" y="807">Sabat (RN)</text></g>
<g id="a-sandoval"><circle class="nd" cx="390" cy="821" r="5.2"/><text class="l" x="398" y="820">Sandoval (UDI)</text></g>
<g id="a-urrutia"><circle class="nd" cx="497" cy="825" r="5.2"/><text class="l" x="505" y="824">Urrutia (UDI)</text></g>
<g id="a-monckebergc"><circle class="nd" cx="322" cy="828" r="5.2"/><text class="l" x="330" y="829">Monckeberg C (RN)</text></g>
<g id="a-kort"><circle class="nd" cx="403" cy="839" r="5.2"/><text class="l" x="413" y="838">Kort (UDI)</text></g>
<g id="a-zalaquett"><circle class="nd" cx="374" cy="839" r="5.2"/><text class="l" x="382" y="848">Zalaquett (UDI)</text></g>
<g id="a-turres"><circle class="nd" cx="557" cy="839" r="5.2"/><text class="l" x="565" y="837">Turres (UDI)</text></g>
<g id="a-macaya"><circle class="nd" cx="492" cy="837" r="5.2"/><text class="l" x="488" y="848">Macaya (UDI)</text></g>
<g id="a-bauer"><circle class="nd" cx="574" cy="853" r="5.2"/><text class="l" x="582" y="853">Bauer (UDI)</text></g>
<g id="a-perez"><circle class="nd" cx="328" cy="855" r="5.2"/><text class="l" x="337" y="854">Pérez (RN)</text></g>
<g id="a-rojas"><circle class="nd" cx="382" cy="876" r="5.2"/><text class="l" x="390" y="879">Rojas (UDI)</text></g>
<g id="a-arenas"><circle class="nd" cx="418" cy="871" r="5.2"/><text class="l" x="426" y="869">Arenas (UDI)</text></g>
<g id="a-vanrysselberghe"><circle class="nd" cx="543" cy="880" r="5.2"/><text class="l" x="551" y="879">VanRysselberghe (UDI)</text></g>
<g id="a-delmastro"><circle class="nd" cx="269" cy="893" r="5.2"/><text class="l" x="277" y="892">Delmastro (RN-IND)</text></g>
<g id="a-hernandez"><circle class="nd" cx="444" cy="898" r="5.2"/><text class="l" x="452" y="897">Hernández (UDI)</text></g>
<g id="a-hoffmann"><circle class="nd" cx="371" cy="913" r="5.2"/><text class="l" x="379" y="911">Hoffmann (UDI)</text></g>
<g id="a-recondo"><circle class="nd" cx="577" cy="905" r="5.2"/><text class="l" x="585" y="903">Recondo (UDI)</text></g>
<g id="a-estay"><circle class="nd" cx="604" cy="916" r="5.2"/><text class="l" x="613" y="915">Estay (UDI)</text></g>
<g id="a-hasbun"><circle class="nd" cx="303" cy="934" r="5.2"/><text class="l" x="292" y="919">Hasbún (UDI)</text></g>
<g id="a-norambuena"><circle class="nd" cx="547" cy="935" r="5.2"/><text class="l" x="555" y="934">Norambuena (UDI)</text></g>
<g id="a-molina"><circle class="nd" cx="347" cy="939" r="5.2"/><text class="l" x="356" y="939">Molina (UDI)</text></g>
<g id="a-bobadilla"><circle class="nd" cx="430" cy="945" r="5.2"/><text class="l" x="421" y="931">Bobadilla (UDI)</text></g>
<g id="a-morales"><circle class="nd" cx="467" cy="941" r="5.2"/><text class="l" x="476" y="943">Morales (UDI)</text></g>
<g id="a-salaberry"><circle class="nd" cx="463" cy="953" r="5.2"/><text class="l" x="471" y="956">Salaberry (UDI)</text></g>
<g id="a-vonmuhlenbrock"><circle class="nd" cx="599" cy="965" r="5.2"/><text class="l" x="607" y="965">VonMühlenbrock (UDI)</text></g>
<g id="a-cristi"><circle class="nd" cx="179" cy="973" r="5.2"/><text class="l" x="187" y="972">Cristi (UDI)</text></g>
<g id="a-vilches"><circle class="nd" cx="341" cy="973" r="5.2"/><text class="l" x="349" y="973">Vilches (UDI)</text></g>
<g id="a-ward"><circle class="nd" cx="415" cy="980" r="5.2"/><text class="l" x="423" y="968">Ward (UDI)</text></g>
<g id="a-letelier"><circle class="nd" cx="471" cy="978" r="5.2"/><text class="l" x="478" y="971">Letelier (UDI)</text></g>
<g id="a-gutierrezudi"><circle class="nd" cx="498" cy="983" r="5.2"/><text class="l" x="507" y="982">Gutiérrez (UDI)</text></g>
<g id="a-rosales"><circle class="nd" cx="556" cy="992" r="5.2"/><text class="l" x="563" y="992">Rosales (UDI)</text></g>
<g id="a-eluchans"><circle class="nd" cx="347" cy="1011" r="5.2"/><text class="l" x="353" y="1003">Eluchans (UDI)</text></g>
<g id="a-moreira"><circle class="nd" cx="326" cy="1016" r="5.2"/><text class="l" x="333" y="1020">Moreira (UDI)</text></g>
<g id="a-kast"><circle class="nd" cx="502" cy="1016" r="5.2"/><text class="l" x="510" y="1014">Kast (UDI)</text></g>
<g id="a-isasi"><circle class="nd" cx="171" cy="1023" r="5.2"/><text class="l" x="180" y="1022">Isasi (INDAlianza)</text></g>
<g id="a-becker"><circle class="nd" cx="274" cy="1024" r="5.2"/><text class="l" x="257" y="1035">Becker (RN)</text></g>
<g id="a-ulloa"><circle class="nd" cx="453" cy="1023" r="5.2"/><text class="l" x="462" y="1028">Ulloa (UDI)</text></g>
<g id="a-alvarez"><circle class="nd" cx="420" cy="1031" r="5.2"/><text class="l" x="423" y="1039">Alvarez-S (UDI)</text></g>
<g id="a-melero"><circle class="nd" cx="371" cy="1032" r="5.2"/><text class="l" x="363" y="1043">Melero (UDI)</text></g>
<g id="a-baltolu"><circle class="nd" cx="323" cy="1039" r="5.2"/><text class="l" x="271" y="1050">Baltolu (UDI)</text></g>
<g id="a-barros"><circle class="nd" cx="334" cy="1059" r="5.2"/><text class="l" x="342" y="1059">Barros (UDI)</text></g>
<g id="a-gutierrez"><polygon class="wt" points="86,789 95,807 77,807"/><text class="L" x="97" y="798">Gutiérrez (PC)</text></g>
<g id="a-carmona"><polygon class="wt" points="64,877 73,894 55,894"/><text class="L" x="75" y="886">Carmona (PC)</text></g>
<g id="a-teillier"><polygon class="wt" points="16,902 25,919 7,919"/><text class="L" x="27" y="911">Teillier (PC)</text></g>
</g>
</svg>
